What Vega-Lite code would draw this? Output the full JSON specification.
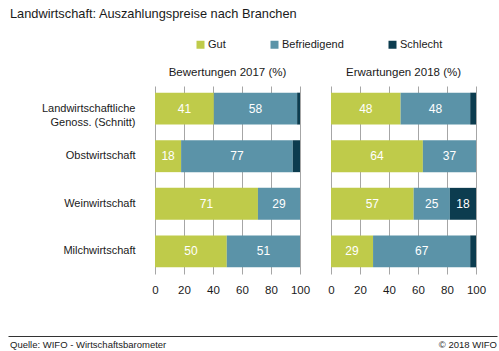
{
  "$schema": "https://vega.github.io/schema/vega-lite/v6.json",
  "padding": {"left": 8, "top": 8, "right": 2, "bottom": 0},
  "background": "white",
  "title": {"text": "Landwirtschaft: Auszahlungspreise nach Branchen", "anchor": "start", "frame": "bounds", "dx": 2, "fontSize": 12.8, "fontWeight": "normal", "color": "#1a1a1a", "font": "Liberation Sans", "offset": 18},
  "config": {"view": {"stroke": null}, "font": "Liberation Sans"},
  "datasets": {
    "werte": [
      {"Panel": "Bewertungen 2017 (%)", "Branche": "Landwirtschaftliche Genoss. (Schnitt)", "Bewertung": "Gut", "Rang": 1, "Wert": 41},
      {"Panel": "Bewertungen 2017 (%)", "Branche": "Landwirtschaftliche Genoss. (Schnitt)", "Bewertung": "Befriedigend", "Rang": 2, "Wert": 58},
      {"Panel": "Bewertungen 2017 (%)", "Branche": "Landwirtschaftliche Genoss. (Schnitt)", "Bewertung": "Schlecht", "Rang": 3, "Wert": 2},
      {"Panel": "Bewertungen 2017 (%)", "Branche": "Obstwirtschaft", "Bewertung": "Gut", "Rang": 1, "Wert": 18},
      {"Panel": "Bewertungen 2017 (%)", "Branche": "Obstwirtschaft", "Bewertung": "Befriedigend", "Rang": 2, "Wert": 77},
      {"Panel": "Bewertungen 2017 (%)", "Branche": "Obstwirtschaft", "Bewertung": "Schlecht", "Rang": 3, "Wert": 5},
      {"Panel": "Bewertungen 2017 (%)", "Branche": "Weinwirtschaft", "Bewertung": "Gut", "Rang": 1, "Wert": 71},
      {"Panel": "Bewertungen 2017 (%)", "Branche": "Weinwirtschaft", "Bewertung": "Befriedigend", "Rang": 2, "Wert": 29},
      {"Panel": "Bewertungen 2017 (%)", "Branche": "Weinwirtschaft", "Bewertung": "Schlecht", "Rang": 3, "Wert": 0},
      {"Panel": "Bewertungen 2017 (%)", "Branche": "Milchwirtschaft", "Bewertung": "Gut", "Rang": 1, "Wert": 50},
      {"Panel": "Bewertungen 2017 (%)", "Branche": "Milchwirtschaft", "Bewertung": "Befriedigend", "Rang": 2, "Wert": 51},
      {"Panel": "Bewertungen 2017 (%)", "Branche": "Milchwirtschaft", "Bewertung": "Schlecht", "Rang": 3, "Wert": 0},
      {"Panel": "Erwartungen 2018 (%)", "Branche": "Landwirtschaftliche Genoss. (Schnitt)", "Bewertung": "Gut", "Rang": 1, "Wert": 48},
      {"Panel": "Erwartungen 2018 (%)", "Branche": "Landwirtschaftliche Genoss. (Schnitt)", "Bewertung": "Befriedigend", "Rang": 2, "Wert": 48},
      {"Panel": "Erwartungen 2018 (%)", "Branche": "Landwirtschaftliche Genoss. (Schnitt)", "Bewertung": "Schlecht", "Rang": 3, "Wert": 4},
      {"Panel": "Erwartungen 2018 (%)", "Branche": "Obstwirtschaft", "Bewertung": "Gut", "Rang": 1, "Wert": 64},
      {"Panel": "Erwartungen 2018 (%)", "Branche": "Obstwirtschaft", "Bewertung": "Befriedigend", "Rang": 2, "Wert": 37},
      {"Panel": "Erwartungen 2018 (%)", "Branche": "Obstwirtschaft", "Bewertung": "Schlecht", "Rang": 3, "Wert": 0},
      {"Panel": "Erwartungen 2018 (%)", "Branche": "Weinwirtschaft", "Bewertung": "Gut", "Rang": 1, "Wert": 57},
      {"Panel": "Erwartungen 2018 (%)", "Branche": "Weinwirtschaft", "Bewertung": "Befriedigend", "Rang": 2, "Wert": 25},
      {"Panel": "Erwartungen 2018 (%)", "Branche": "Weinwirtschaft", "Bewertung": "Schlecht", "Rang": 3, "Wert": 18},
      {"Panel": "Erwartungen 2018 (%)", "Branche": "Milchwirtschaft", "Bewertung": "Gut", "Rang": 1, "Wert": 29},
      {"Panel": "Erwartungen 2018 (%)", "Branche": "Milchwirtschaft", "Bewertung": "Befriedigend", "Rang": 2, "Wert": 67},
      {"Panel": "Erwartungen 2018 (%)", "Branche": "Milchwirtschaft", "Bewertung": "Schlecht", "Rang": 3, "Wert": 4}
    ],
    "quelle": [
      {"Text": "Quelle: WIFO - Wirtschaftsbarometer", "Pos": 0},
      {"Text": "© 2018 WIFO", "Pos": 1}
    ]
  },
  "columns": 1,
  "align": "none",
  "spacing": 40,
  "concat": [
    {
      "data": {"name": "werte"},
      "facet": {
        "column": {"field": "Panel", "type": "nominal", "sort": ["Bewertungen 2017 (%)", "Erwartungen 2018 (%)"],
          "header": {"title": null, "labelFontSize": 11.5, "labelColor": "#1a1a1a", "labelFont": "Liberation Sans", "labelPadding": 8}}
      },
      "spacing": 31,
      "spec": {
        "width": 145,
        "height": 188,
        "encoding": {
          "y": {"field": "Branche", "type": "nominal",
            "sort": ["Landwirtschaftliche Genoss. (Schnitt)", "Obstwirtschaft", "Weinwirtschaft", "Milchwirtschaft"],
            "scale": {"paddingInner": 0.33, "paddingOuter": 0.14},
            "axis": {"title": null, "ticks": false, "domain": false, "labelFontSize": 11, "labelColor": "#1a1a1a", "labelPadding": 20, "minExtent": 147, "labelLineHeight": 14,
              "labelExpr": "datum.label == 'Landwirtschaftliche Genoss. (Schnitt)' ? ['Landwirtschaftliche', 'Genoss. (Schnitt)'] : datum.label"}}
        },
        "layer": [
          {
            "mark": {"type": "bar"},
            "encoding": {
              "x": {"field": "Wert", "type": "quantitative", "stack": "normalize", "scale": {"domain": [0, 1]},
                "axis": {"title": null, "values": [0, 0.2, 0.4, 0.6, 0.8, 1], "tickCount": 6, "labelExpr": "format(datum.value*100, 'd')", "labelFlush": false, "labelOverlap": false,
                  "ticks": false, "domain": false, "grid": true, "gridColor": "#a6a6a6", "gridWidth": 1, "labelFontSize": 11.5, "labelColor": "#1a1a1a", "labelPadding": 10}},
              "color": {"field": "Bewertung", "type": "nominal",
                "scale": {"domain": ["Gut", "Befriedigend", "Schlecht"], "range": ["#bfcb4a", "#5b93a8", "#0c3c4f"]},
                "legend": {"title": null, "orient": "none", "legendX": 40, "legendY": -47, "direction": "horizontal", "symbolType": "square", "symbolSize": 64, "symbolStrokeWidth": 0, "labelFontSize": 11, "labelColor": "#1a1a1a", "columnPadding": 43, "labelOffset": 2}},
              "order": {"field": "Rang", "type": "quantitative"}
            }
          },
          {
            "mark": {"type": "text", "color": "white", "fontSize": 12, "align": "center", "baseline": "middle"},
            "encoding": {
              "x": {"field": "Wert", "type": "quantitative", "stack": "normalize", "bandPosition": 0.5},
              "detail": {"field": "Bewertung"},
              "order": {"field": "Rang", "type": "quantitative"},
              "text": {"condition": {"test": "datum.Wert < 10", "value": ""}, "field": "Wert", "type": "quantitative", "format": "d"}
            }
          }
        ]
      }
    },
    {
      "data": {"name": "quelle"},
      "width": 342,
      "height": 18,
      "encoding": {
        "x": {"field": "Pos", "type": "quantitative", "scale": {"domain": [0, 1], "range": [-147, 342]},
          "axis": {"orient": "top", "domain": true, "domainColor": "#333333", "domainWidth": 1, "ticks": false, "labels": false, "grid": false, "title": null}},
        "text": {"field": "Text", "type": "nominal"}
      },
      "layer": [
        {"transform": [{"filter": "datum.Pos == 0"}], "mark": {"type": "text", "align": "left", "dx": 2, "fontSize": 9.5, "color": "#1a1a1a"}},
        {"transform": [{"filter": "datum.Pos == 1"}], "mark": {"type": "text", "align": "right", "fontSize": 9.5, "color": "#1a1a1a"}}
      ]
    }
  ]
}
